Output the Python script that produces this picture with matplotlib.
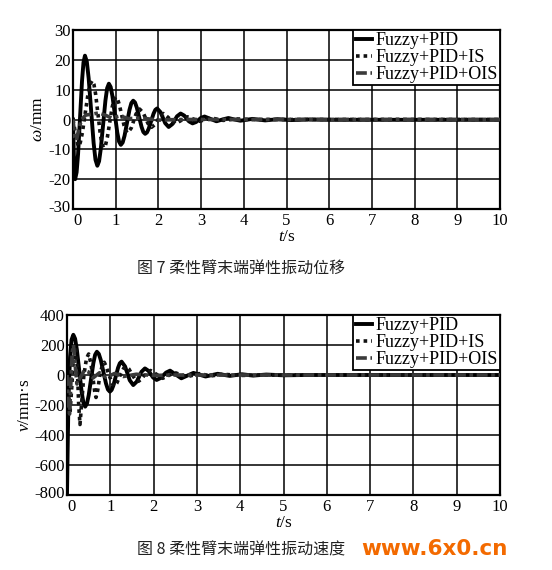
import matplotlib
matplotlib.use("Agg")
import matplotlib.pyplot as plt
from matplotlib.transforms import ScaledTranslation

plt.rcParams['font.family'] = ['Liberation Serif', 'DejaVu Serif']
plt.rcParams['axes.unicode_minus'] = False
plt.rcParams['mathtext.fontset'] = 'custom'
plt.rcParams['mathtext.it'] = 'Liberation Serif:italic'
plt.rcParams['mathtext.rm'] = 'Liberation Serif'

series_names = ["Fuzzy+PID", "Fuzzy+PID+IS", "Fuzzy+PID+OIS"]
x_ticks = [0, 1, 2, 3, 4, 5, 6, 7, 8, 9, 10]
disp_ticks = [-30, -20, -10, 0, 10, 20, 30]
vel_ticks = [-800, -600, -400, -200, 0, 200, 400]

# ---- Fig 7: displacement (mm) ----
d_pid_t = [0, 0.02, 0.05, 0.0845, 0.119, 0.165, 0.211, 0.2455, 0.28,
           0.3235, 0.367, 0.425, 0.483, 0.5265, 0.57,
           0.6105, 0.651, 0.705, 0.759, 0.7995, 0.84,
           0.882, 0.924, 0.98, 1.036, 1.078, 1.12,
           1.1635, 1.207, 1.265, 1.323, 1.3665, 1.41,
           1.452, 1.494, 1.55, 1.606, 1.648, 1.69,
           1.732, 1.774, 1.83, 1.886, 1.928, 1.97,
           2.051, 2.105, 2.159, 2.24, 2.324, 2.38, 2.436, 2.52,
           2.604, 2.66, 2.716, 2.80, 2.884, 2.94, 2.996, 3.08,
           3.22, 3.36, 3.5, 3.64, 3.78, 3.92, 4.06, 4.2, 4.5, 4.8, 5.1, 5.5, 6.0, 10.0]
d_pid_v = [0, -12, -20, -17.7, -11.5, 0.7, 12.9, 19.1, 21.4,
           19.4, 13.8, 2.95, -7.9, -13.5, -15.5,
           -14.0, -9.8, -1.75, 6.3, 10.5, 12,
           10.9, 7.8, 1.75, -4.3, -7.4, -8.5,
           -7.7, -5.45, -1.1, 3.25, 5.5, 6.3,
           5.7, 4.0, 0.75, -2.5, -4.2, -4.8,
           -4.34, -3.05, -0.55, 1.95, 3.24, 3.7,
           2.42, 0.6, -1.22, -2.5, -1.57, -0.25, 1.07, 2.0,
           1.32, 0.35, -0.62, -1.3, -0.83, -0.15, 0.53, 1.0,
           0.2, -0.6, 0, 0.5, 0, -0.4, -0.1, 0.2, -0.3, 0.1, -0.2, 0.0, -0.1, -0.1]

d_is_t = [0, 0.05, 0.12, 0.1695, 0.219, 0.285, 0.351, 0.4005, 0.45,
          0.4905, 0.531, 0.585, 0.639, 0.6795, 0.72,
          0.762, 0.804, 0.86, 0.916, 0.958, 1.0,
          1.042, 1.084, 1.14, 1.196, 1.238, 1.28,
          1.364, 1.42, 1.476, 1.56, 1.644, 1.70, 1.756, 1.84,
          1.924, 1.98, 2.036, 2.12, 2.26, 2.40, 2.54, 2.68, 2.82, 2.96,
          3.24, 3.52, 3.8, 4.2, 10.0]
d_is_v = [0, -4, -9, -7.8, -4.47, 2, 8.47, 11.8, 13,
          11.77, 8.36, 1.75, -4.87, -8.27, -9.5,
          -8.57, -6.0, -1.0, 4.0, 6.57, 7.5,
          6.85, 5.03, 1.5, -2.03, -3.85, -4.5,
          -2.85, -0.5, 1.85, 3.5, 2.24, 0.45, -1.34, -2.6,
          -1.65, -0.3, 1.05, 2.0, 0.3, -1.4, -0.25, 0.9, 0.15, -0.6,
          0.5, -0.3, 0.2, 0, 0]

d_ois_t = [0, 0.04, 0.08, 0.14, 0.2, 0.3, 0.45, 0.6, 0.75, 0.9, 1.1, 1.3, 1.6, 2.0, 2.5, 10.0]
d_ois_v = [0, -6, -7, -3, 0, 1.5, 1.8, 2.2, 1.5, 0.5, 1.2, 0.3, 0.5, -0.2, 0, 0]

# ---- Fig 8: velocity (mm/s) ----
v_pid_t = [0, 0.015, 0.035, 0.07, 0.105, 0.146,
           0.187, 0.228, 0.283, 0.338, 0.379, 0.42,
           0.4605, 0.501, 0.555, 0.609, 0.6495, 0.69,
           0.735, 0.78, 0.84, 0.9, 0.945, 0.99,
           1.03, 1.071, 1.125, 1.179, 1.2195, 1.26,
           1.341, 1.395, 1.449, 1.53, 1.611, 1.665, 1.719, 1.80,
           1.881, 1.935, 1.989, 2.07, 2.163, 2.225, 2.287, 2.38,
           2.51, 2.64, 2.78, 2.92, 3.2, 3.48, 3.76, 4.04, 4.3, 4.6, 5.0, 5.5, 10.0]
v_pid_v = [-790, -500, -150, 120, 235, 268,
           242, 169, 28.5, -112, -185, -211,
           -191, -135.6, -28, 79.6, 135, 155,
           140.5, 100, 22, -56, -96.5, -111,
           -100, -70, -11, 48, 78, 89,
           57, 11, -35, -67, -44, -11.5, 21, 44,
           28, 5.5, -17, -33, -20, -2, 16, 29,
           3.5, -22, -4, 14, -10, 8, -6, 5, -4, 3, -2, 0, 0]

v_is_t = [0, 0.03, 0.07, 0.11, 0.15, 0.2, 0.24, 0.27, 0.30, 0.34, 0.39, 0.45, 0.5, 0.55, 0.59,
          0.64, 0.67, 0.71, 0.76, 0.82, 0.86, 0.90, 0.97, 1.05, 1.1, 1.15, 1.23, 1.31, 1.37,
          1.43, 1.51, 1.59, 1.65, 1.71, 1.79, 1.93, 2.21, 2.49, 2.77, 3.05, 3.33, 3.6, 4.0, 4.5, 10.0]
v_is_v = [0, -120, -250, -80, 120, 190, 40, -200, -330, -180, 0, 110, 140, 80, 0,
          -110, -150, -100, 0, 70, 85, 60, 0, -60, -75, -55, 0, 45, 55,
          40, 0, -35, -42, -30, 0, 30, -22, 16, -12, 9, -6, 5, -3, 0, 0]

v_ois_t = [0, 0.03, 0.06, 0.09, 0.12, 0.15, 0.19, 0.23, 0.3, 0.4, 0.5, 0.6, 0.75, 0.9, 1.1,
           1.3, 1.6, 2.0, 2.5, 10.0]
v_ois_v = [0, -200, -260, -50, 150, 200, 60, -60, -20, 30, 20, -20, 15, -15, 10,
           -10, 5, -3, 0, 0]

W, H = 552, 570
fig = plt.figure(figsize=(W / 100, H / 100), dpi=100)

def style_axes(ax, yticks, ylim):
    ax.set_xlim(0, 10)
    ax.set_ylim(*ylim)
    ax.set_xticks(x_ticks)
    ax.set_yticks(yticks)
    ax.set_xticklabels([str(v) for v in x_ticks])
    ax.set_yticklabels([str(v) for v in yticks])
    ax.grid(True, color='black', linewidth=1.1)
    ax.tick_params(axis='y', length=0, labelsize=12, pad=1.5)
    ax.tick_params(axis='x', length=0, labelsize=12, pad=3)
    for s in ax.spines.values():
        s.set_linewidth(1.6)
        s.set_color('black')
    # nudge the corner labels apart, as in the reference
    xl0 = ax.get_xticklabels()[0]
    xl0.set_transform(xl0.get_transform() + ScaledTranslation(3 / 72, 0, fig.dpi_scale_trans))
    yl0 = ax.get_yticklabels()[0]
    yl0.set_transform(yl0.get_transform() + ScaledTranslation(0, 2.5 / 72, fig.dpi_scale_trans))

def draw(ax, data):
    (t1, y1), (t2, y2), (t3, y3) = data
    ax.plot(t1, y1, color='black', linewidth=2.8, solid_joinstyle='round', label=series_names[0], zorder=3)
    ax.plot(t2, y2, color='#111111', linewidth=2.6, linestyle=(0, (1, 1.1)), label=series_names[1], zorder=3)
    ax.plot(t3, y3, color='#3a3a3a', linewidth=2.6, linestyle=(0, (3, 1, 1, 1)), label=series_names[2], zorder=3)
    leg = ax.legend(loc='upper right', borderaxespad=0, fontsize=13, handlelength=0.9,
                    handletextpad=0.2, labelspacing=0.0, borderpad=0.12, fancybox=False,
                    framealpha=1, edgecolor='black')
    leg.get_frame().set_linewidth(1.3)
    leg.set_zorder(5)

# top axes
ax1 = fig.add_axes([73 / W, 1 - 209 / H, 427 / W, 179 / H])
style_axes(ax1, disp_ticks, (-30, 30))
draw(ax1, [(d_pid_t, d_pid_v), (d_is_t, d_is_v), (d_ois_t, d_ois_v)])
ax1.set_xlabel(r'$\mathit{t}$/s', fontsize=12.5, labelpad=0)
ax1.set_ylabel(r'$\mathit{\omega}$/mm', fontsize=12.5, labelpad=2)

# bottom axes
ax2 = fig.add_axes([67 / W, 1 - 495 / H, 433 / W, 180 / H])
style_axes(ax2, vel_ticks, (-800, 400))
draw(ax2, [(v_pid_t, v_pid_v), (v_is_t, v_is_v), (v_ois_t, v_ois_v)])
ax2.set_xlabel(r'$\mathit{t}$/s', fontsize=12.5, labelpad=0)
ax2.set_ylabel(r'$\mathit{v}$/mm·s', fontsize=12.5, labelpad=1)

cjk = ['Noto Sans CJK SC', 'DejaVu Sans']
fig.text(241 / W, 1 - 268 / H, '图 7 柔性臂末端弹性振动位移', family=cjk, fontsize=11.5,
         ha='center', va='center', color='#222222')
fig.text(241 / W, 1 - 550 / H, '图 8 柔性臂末端弹性振动速度', family=cjk, fontsize=11.5,
         ha='center', va='center', color='#222222')
fig.text(434 / W, 1 - 549 / H, 'www.6x0.cn', family=['DejaVu Sans'], fontweight='bold',
         fontsize=15.5, ha='center', va='center', color='#F36A00')

fig.savefig('out.png', dpi=100, facecolor='white')
